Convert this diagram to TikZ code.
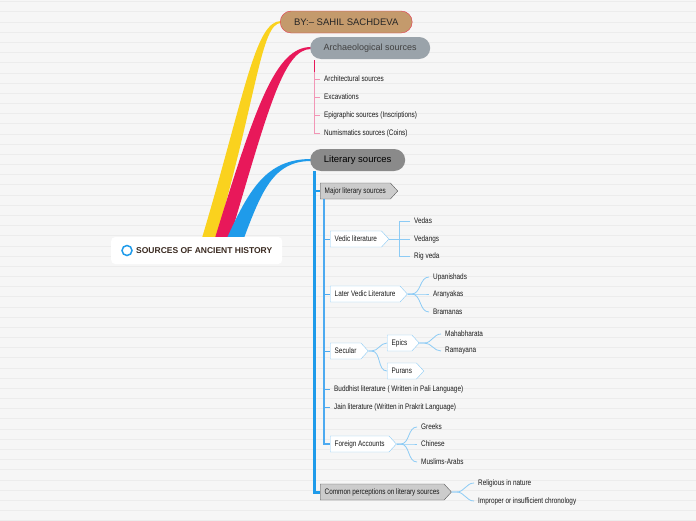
\documentclass[tikz,border=0pt]{standalone}
\usepackage{fontspec}
\setmainfont{Liberation Sans}
\newfontfamily\narrowfont{Liberation Sans}[FakeStretch=0.8]
\usetikzlibrary{shapes.symbols,calc}

\definecolor{paper}{HTML}{F6F6F6}
\definecolor{ruleline}{HTML}{ECECEC}
\definecolor{yellowbr}{HTML}{FAD21E}
\definecolor{pinkbr}{HTML}{E8185A}
\definecolor{pinklight}{HTML}{F296B6}
\definecolor{bluebr}{HTML}{1F9BEA}
\definecolor{bluemid}{HTML}{4DAAF0}
\definecolor{bluelight}{HTML}{8CCBF5}
\definecolor{tanfill}{HTML}{C49A6C}
\definecolor{redline}{HTML}{E23A4F}
\definecolor{archgray}{HTML}{9AA3AA}
\definecolor{litgray}{HTML}{8A8A8A}
\definecolor{boxgray}{HTML}{CCCCCC}
\definecolor{roottext}{HTML}{3A2A20}

\tikzset{
  pill/.style={rounded corners=11pt, minimum height=22pt, inner sep=0pt, anchor=west},
  leaf/.style={anchor=west, inner xsep=4pt, inner ysep=1pt, font=\narrowfont\fontsize{8}{9}\selectfont, text=black!90},
  tag/.style={signal, signal to=east, signal pointer angle=95, draw=bluelight, fill=white,
    anchor=west, inner xsep=4.5pt, inner ysep=0pt, minimum height=16pt,
    font=\narrowfont\fontsize{8}{9}\selectfont, text=black!90},
  graytag/.style={tag, draw=black!65, fill=boxgray},
  twig/.style={bluelight, line width=0.8pt},
}

\begin{document}
\begin{tikzpicture}[x=1pt, y=-1pt]
\useasboundingbox (0,0) rectangle (696,520);
\fill[paper] (0,0) rectangle (696,520);
\foreach \i in {0,...,51}
  \draw[ruleline, line width=0.8pt] (0,1.7+10.175*\i) -- (696,1.7+10.175*\i);

% main branches
\fill[yellowbr] (202,238) .. controls (245,94) and (255,21) .. (281,21)
  -- (281,23) .. controls (261,23) and (257,96) .. (216,238) -- cycle;
\fill[pinkbr] (215,238) .. controls (256,104) and (276,47) .. (311,47)
  -- (311,49) .. controls (284,49) and (269,106) .. (230,238) -- cycle;
\fill[bluebr] (227,238) .. controls (249,190) and (266,159) .. (311,159)
  -- (311,161) .. controls (274,161) and (262,190) .. (244,238) -- cycle;

% root
\node[fill=white, rounded corners=4pt, anchor=west, minimum height=27pt, inner xsep=10pt,
  font=\bfseries\fontsize{8.5}{10}\selectfont, text=roottext] (root) at (111,250.5)
  {\hspace{15pt}SOURCES OF ANCIENT HISTORY};
\draw[bluebr, line width=1.5pt] ([xshift=16pt]root.west) circle (5pt);

% top level
\node[pill, fill=tanfill, draw=redline, minimum width=132pt,
  font=\fontsize{9.5}{11}\selectfont, text=black!85] (by) at (280,22) {BY:-- SAHIL SACHDEVA};
\node[pill, fill=archgray, minimum width=120pt,
  font=\fontsize{9}{11}\selectfont, text=black!75] (arch) at (310,48) {Archaeological sources};
\node[pill, fill=litgray, minimum width=95pt,
  font=\fontsize{9.5}{11}\selectfont, text=black] (lit) at (310,160) {Literary sources};

% archaeological
\node[leaf] (a1) at (320,79) {Architectural sources};
\node[leaf] (a2) at (320,97) {Excavations};
\node[leaf] (a3) at (320,115) {Epigraphic sources (Inscriptions)};
\node[leaf] (a4) at (320,133) {Numismatics sources (Coins)};
\coordinate (archbar) at (314,60);
\draw[pinkbr, line width=1pt] (archbar) -- ++(0,12);
\draw[pinklight, line width=0.8pt] (archbar) ++(0,12) |- (a4.west);
\foreach \n in {a1,a2,a3}
  \draw[pinklight, line width=0.8pt] (archbar |- \n.west) -- (\n.west);

% literary
\node[graytag] (major) at (320,191) {Major literary sources};
\node[graytag] (common) at (320,492) {Common perceptions on literary sources};
\coordinate (litbar) at (314,171);
\draw[bluebr, line width=3pt] (litbar) |- (common.west);
\draw[bluebr, line width=2pt] (litbar |- major.west) -- (major.west);

\node[tag] (vedic) at (330,239) {Vedic literature};
\node[tag] (later) at (330,294) {Later Vedic Literature};
\node[tag] (secular) at (330,351) {Secular};
\node[leaf] (buddh) at (330,389) {Buddhist literature ( Written in Pali Language)};
\node[leaf] (jain) at (330,407) {Jain literature (Written in Prakrit Language)};
\node[tag] (foreign) at (330,444) {Foreign Accounts};
\coordinate (innerbar) at ([xshift=4pt]major.south west);
\draw[bluemid, line width=1.2pt] (innerbar) |- (foreign.west);
\foreach \n in {vedic,later,secular,buddh,jain}
  \draw[bluemid, line width=1pt] (innerbar |- \n.west) -- (\n.west);

% vedic
\node[leaf] (vedas) at (410,221) {Vedas};
\node[leaf] (vedangs) at (410,239) {Vedangs};
\node[leaf] (rig) at (410,256) {Rig veda};
\draw[twig] (vedic.east) -- ++(10,0) coordinate (vfork);
\draw[twig] (vedas.west) -| (vfork) |- (rig.west);
\draw[twig] (vfork) -- (vedangs.west);

% later vedic
\node[leaf] (upan) at (429,277) {Upanishads};
\node[leaf] (aran) at (429,294) {Aranyakas};
\node[leaf] (bram) at (429,312) {Bramanas};
\foreach \n in {upan,aran,bram}
  \draw[twig] (later.east) -- ++(4,0) to[out=0, in=180] (\n.west);

% secular
\node[tag] (epics) at (387,343) {Epics};
\node[tag] (purans) at (387,371) {Purans};
\foreach \n in {epics,purans}
  \draw[twig] (secular.east) -- ++(3,0) to[out=0, in=180] (\n.west);
\node[leaf] (maha) at (441,334) {Mahabharata};
\node[leaf] (rama) at (441,351) {Ramayana};
\foreach \n in {maha,rama}
  \draw[twig] (epics.east) -- ++(5,0) to[out=0, in=180] (\n.west);

% foreign
\node[leaf] (greeks) at (417,427) {Greeks};
\node[leaf] (chinese) at (417,444) {Chinese};
\node[leaf] (muslims) at (417,462) {Muslims-Arabs};
\foreach \n in {greeks,chinese,muslims}
  \draw[twig] (foreign.east) -- ++(4,0) to[out=0, in=180] (\n.west);

% common perceptions
\node[leaf] (relig) at (474,483) {Religious in nature};
\node[leaf] (improper) at (474,501) {Improper or insufficient chronology};
\foreach \n in {relig,improper}
  \draw[twig] (common.east) -- ++(5,0) to[out=0, in=180] (\n.west);
\end{tikzpicture}
\end{document}
